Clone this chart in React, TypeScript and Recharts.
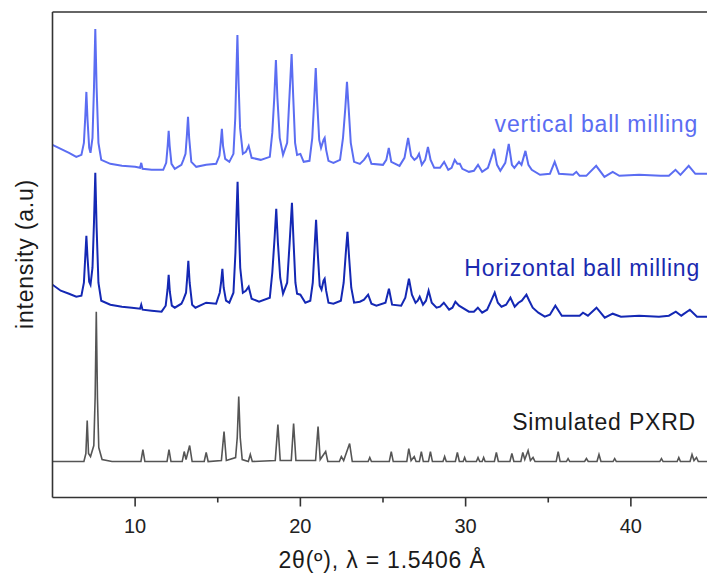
import { LineChart, Line, XAxis, YAxis, ReferenceLine } from "recharts"

// 2θ (deg) vs intensity (a.u., stacked offsets)
const vertical: [number, number][] = [
  [5.0, 353], [5.5, 349], [6.0, 345], [6.44, 341], [6.75, 343], [6.9, 355], [6.98, 380], [7.05, 406], [7.12, 378],
  [7.22, 350], [7.3, 345], [7.42, 360], [7.51, 410], [7.59, 469], [7.67, 410], [7.78, 355], [7.95, 338], [8.5, 334],
  [9.2, 332], [10.0, 331], [10.3, 330], [10.37, 335], [10.45, 329], [11.0, 328], [11.7, 328], [11.88, 335], [11.97, 352],
  [12.03, 367], [12.09, 352], [12.2, 334], [12.4, 329], [12.8, 333], [12.92, 338], [13.05, 344], [13.13, 362], [13.2, 381],
  [13.27, 360], [13.4, 336], [13.7, 331], [14.3, 333], [14.9, 334], [15.1, 342], [15.18, 355], [15.25, 369], [15.32, 352],
  [15.45, 339], [15.7, 336], [15.95, 344], [16.06, 380], [16.12, 420], [16.19, 463], [16.26, 415], [16.35, 370],
  [16.52, 344], [16.7, 346], [16.87, 352], [17.05, 340], [17.6, 338], [18.15, 341], [18.3, 365], [18.42, 400],
  [18.52, 438], [18.61, 400], [18.75, 360], [18.95, 343], [19.2, 355], [19.32, 395], [19.47, 444], [19.57, 400],
  [19.68, 355], [19.8, 343], [20.0, 344], [20.2, 336], [20.55, 337], [20.72, 360], [20.83, 395], [20.93, 430],
  [21.02, 395], [21.14, 358], [21.25, 350], [21.4, 358], [21.47, 360], [21.56, 348], [21.7, 337], [22.0, 335],
  [22.4, 338], [22.58, 360], [22.72, 390], [22.82, 416], [22.92, 390], [23.05, 355], [23.25, 336], [23.6, 334],
  [23.85, 338], [24.1, 344], [24.3, 334], [25.0, 333], [25.2, 338], [25.35, 350], [25.5, 336], [26.0, 332], [26.3, 340],
  [26.52, 360], [26.7, 342], [26.9, 338], [27.05, 340], [27.18, 344], [27.35, 333], [27.55, 338], [27.72, 351],
  [27.88, 338], [28.1, 330], [28.45, 330], [28.7, 336], [28.95, 328], [29.15, 330], [29.34, 338], [29.5, 334],
  [29.65, 334], [29.8, 329], [30.2, 326], [30.5, 327], [30.75, 333], [31.0, 326], [31.35, 330], [31.55, 340],
  [31.72, 349], [31.9, 333], [32.1, 327], [32.4, 335], [32.61, 354], [32.8, 333], [32.95, 330], [33.23, 336],
  [33.38, 333], [33.62, 347], [33.8, 333], [34.0, 328], [34.5, 323], [35.1, 324], [35.39, 336], [35.65, 324],
  [36.5, 323], [36.7, 326], [36.9, 322], [37.3, 322], [37.9, 332], [38.4, 321], [38.9, 326], [39.3, 322], [40.5, 323],
  [41.8, 322], [42.3, 322], [42.7, 328], [43.0, 323], [43.5, 332], [43.9, 324], [45, 324],
]

const horizontal: [number, number][] = [
  [5.0, 213], [5.5, 207], [6.0, 204], [6.44, 201], [6.75, 202], [6.9, 215], [6.98, 240], [7.05, 262], [7.12, 240],
  [7.22, 216], [7.3, 213], [7.42, 230], [7.51, 275], [7.59, 325], [7.67, 270], [7.78, 215], [7.95, 197], [8.5, 193],
  [9.2, 191], [9.8, 190], [10.3, 189], [10.37, 193], [10.45, 188], [11.0, 187], [11.6, 186], [11.85, 192], [11.96, 208],
  [12.03, 223], [12.1, 206], [12.22, 192], [12.4, 190], [12.8, 194], [12.92, 198], [13.08, 205], [13.15, 220],
  [13.22, 237], [13.3, 215], [13.45, 193], [13.65, 190], [14.3, 195], [14.9, 194], [15.12, 205], [15.2, 215],
  [15.28, 229], [15.36, 210], [15.5, 197], [15.7, 195], [15.95, 205], [16.07, 245], [16.13, 280], [16.2, 316],
  [16.27, 275], [16.36, 230], [16.52, 205], [16.7, 207], [16.87, 211], [17.05, 199], [17.5, 196], [18.15, 200],
  [18.3, 225], [18.44, 260], [18.54, 289], [18.64, 255], [18.78, 220], [18.95, 204], [19.2, 215], [19.35, 255],
  [19.49, 295], [19.59, 255], [19.7, 215], [19.8, 204], [20.0, 203], [20.3, 195], [20.6, 197], [20.75, 215],
  [20.86, 250], [20.95, 278], [21.05, 245], [21.17, 212], [21.28, 208], [21.4, 217], [21.47, 219], [21.56, 207],
  [21.7, 195], [22.0, 194], [22.45, 197], [22.62, 215], [22.75, 245], [22.85, 266], [22.95, 240], [23.08, 210],
  [23.25, 195], [23.6, 196], [23.85, 198], [24.1, 203], [24.3, 194], [24.6, 192], [25.15, 195], [25.36, 209],
  [25.55, 193], [26.1, 192], [26.35, 200], [26.57, 219], [26.75, 203], [26.97, 195], [27.1, 197], [27.22, 201],
  [27.42, 193], [27.6, 197], [27.76, 207], [27.95, 195], [28.24, 190], [28.45, 191], [28.68, 195], [29.0, 188],
  [29.2, 190], [29.38, 196], [29.6, 192], [30.2, 186], [30.5, 186], [30.74, 190], [31.0, 185], [31.3, 188],
  [31.55, 197], [31.76, 205], [31.95, 195], [32.17, 191], [32.45, 193], [32.71, 200], [32.97, 191], [33.2, 195],
  [33.4, 197], [33.68, 203], [33.85, 197], [34.06, 190], [34.4, 185], [34.79, 181], [35.1, 183], [35.43, 192],
  [35.82, 182], [36.5, 182], [36.9, 182], [37.1, 185], [37.4, 182], [37.92, 190], [38.42, 180], [38.9, 184],
  [39.4, 181], [40.5, 182], [41.7, 181], [42.3, 182], [42.72, 186], [43.05, 182], [43.57, 188], [44.0, 181], [45, 181],
]

const simulated: [number, number][] = [
  [5.0, 36], [6.9, 36], [7.02, 44], [7.1, 77], [7.18, 44], [7.3, 41], [7.5, 52], [7.58, 100], [7.65, 186], [7.72, 100],
  [7.8, 50], [8.0, 38], [8.6, 36], [10.35, 36], [10.47, 48], [10.59, 36], [11.93, 36], [12.05, 48], [12.17, 36],
  [12.85, 36], [12.97, 46], [13.08, 38], [13.3, 52], [13.45, 36], [14.18, 36], [14.3, 45], [14.42, 36], [15.22, 37],
  [15.38, 66], [15.52, 37], [16.08, 40], [16.18, 60], [16.27, 101], [16.36, 60], [16.48, 38], [16.85, 36], [16.97, 43],
  [17.09, 36], [18.48, 37], [18.64, 73], [18.78, 37], [19.45, 37], [19.59, 74], [19.73, 37], [20.92, 37], [21.07, 71],
  [21.2, 38], [21.53, 46], [21.66, 36], [22.36, 36], [22.48, 41], [22.62, 37], [22.98, 54], [23.14, 36], [24.1, 36],
  [24.2, 40], [24.3, 36], [25.38, 36], [25.5, 46], [25.62, 36], [26.44, 36], [26.56, 49], [26.7, 37], [26.89, 41],
  [27.0, 36], [27.2, 36], [27.32, 46], [27.44, 36], [27.75, 36], [27.87, 46], [27.99, 36], [28.63, 36], [28.73, 41],
  [28.83, 36], [29.38, 36], [29.5, 45], [29.62, 36], [29.85, 36], [29.94, 40], [30.03, 36], [30.65, 36], [30.75, 40],
  [30.85, 36], [31.0, 36], [31.09, 40], [31.18, 36], [31.74, 36], [31.86, 45], [31.98, 36], [32.68, 36], [32.8, 44],
  [32.92, 36], [33.34, 36], [33.46, 45], [33.58, 38], [33.78, 47], [33.92, 37], [34.08, 40], [34.2, 36], [35.48, 36],
  [35.6, 46], [35.72, 36], [36.1, 36], [36.2, 39], [36.3, 36], [37.2, 36], [37.31, 39], [37.42, 36], [37.95, 36],
  [38.07, 43], [38.19, 36], [38.92, 36], [39.02, 39], [39.12, 36], [41.75, 36], [41.85, 39], [41.95, 36], [42.8, 36],
  [42.9, 40], [43.0, 36], [43.58, 36], [43.7, 43], [43.82, 37], [43.97, 40], [44.08, 36], [45, 36],
]

const xTicks = [10, 15, 20, 25, 30, 35, 40]
const seriesLabels = ["vertical ball milling", "Horizontal ball milling", "Simulated PXRD"]

const toRows = (pts: [number, number][]) => pts.map(([x, y]) => ({ x, y }))

const FONT = "'Liberation Sans', Arial, sans-serif"
const AXIS = "#333"

function XTick(props: any) {
  const { x, y, payload } = props
  const major = payload.value % 10 === 0
  return (
    <g>
      <line x1={x} x2={x} y1={y} y2={y + (major ? 9 : 5)} stroke={AXIS} strokeWidth={1.6} />
      {major && (
        <text x={x} y={y + 35} textAnchor="middle" fontSize={20} fill="#222" fontFamily={FONT}>
          {payload.value}
        </text>
      )}
    </g>
  )
}

export default function App() {
  return (
    <div style={{ position: "absolute", left: 0, top: 0, width: 707, height: 575, overflow: "hidden", background: "#fff" }}>
      <LineChart width={716} height={575} margin={{ top: 12, right: 2.5, left: 42.5, bottom: 37.5 }}>
        <XAxis
          type="number"
          dataKey="x"
          domain={[5, 45]}
          ticks={xTicks}
          allowDataOverflow
          height={40}
          tickSize={0}
          tickMargin={0}
          tickLine={false}
          tick={<XTick />}
          axisLine={{ stroke: AXIS, strokeWidth: 1.6 }}
        />
        <YAxis
          type="number"
          domain={[0, 486]}
          width={10}
          tick={false}
          tickLine={false}
          axisLine={{ stroke: AXIS, strokeWidth: 1.6 }}
        />
        <ReferenceLine y={486} stroke={AXIS} strokeWidth={1.6} />
        <Line data={toRows(vertical)} dataKey="y" type="linear" stroke="#5b6df2" strokeWidth={2} dot={false} isAnimationActive={false} />
        <Line data={toRows(horizontal)} dataKey="y" type="linear" stroke="#1428b4" strokeWidth={2} dot={false} isAnimationActive={false} />
        <Line data={toRows(simulated)} dataKey="y" type="linear" stroke="#555" strokeWidth={1.6} dot={false} isAnimationActive={false} />
      </LineChart>
      <svg width={707} height={575} style={{ position: "absolute", left: 0, top: 0, pointerEvents: "none" }}>
        <g fontFamily={FONT} fontSize={23} letterSpacing={0.8} textAnchor="end">
          <text x={698} y={132} fill="#5b6df2">{seriesLabels[0]}</text>
          <text x={700} y={276} fill="#1a2ab0">{seriesLabels[1]}</text>
          <text x={696} y={430} fill="#1a1a1a">{seriesLabels[2]}</text>
        </g>
        <text x={382} y={568} textAnchor="middle" fontFamily={FONT} fontSize={23} letterSpacing={0.8} fill="#1a1a1a">
          2θ(º), λ = 1.5406 Å
        </text>
        <text
          transform="translate(33, 254) rotate(-90)"
          textAnchor="middle"
          fontFamily={FONT}
          fontSize={23}
          letterSpacing={0.8}
          fill="#1a1a1a"
        >
          intensity (a.u)
        </text>
      </svg>
    </div>
  )
}
